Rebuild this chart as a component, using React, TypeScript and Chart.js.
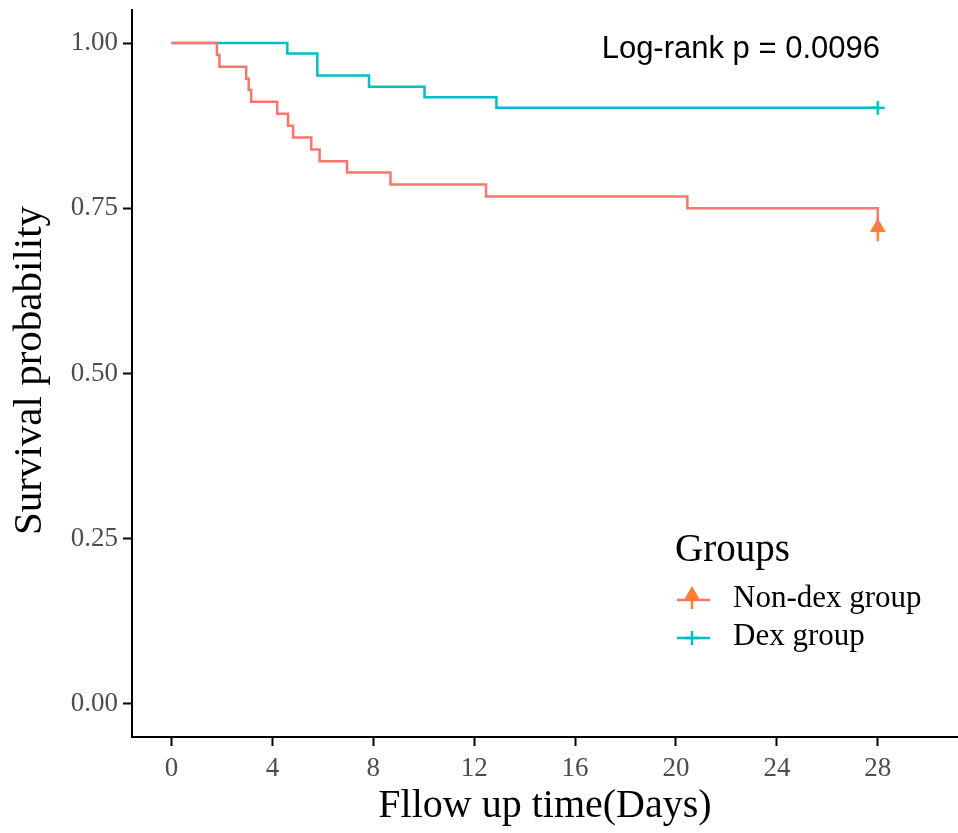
import React, { useEffect, useRef } from "react";
import { Chart, registerables } from "chart.js";

Chart.register(...registerables);

// ---- Data ----
const nonDexTimes = [0, 1.8, 1.9, 2.96, 3.06, 3.16, 4.19, 4.62, 4.82, 5.54, 5.87, 6.96, 8.68, 12.47, 20.45, 28];
const nonDexSurv = [1, 0.982, 0.964, 0.946, 0.929, 0.911, 0.893, 0.875, 0.857, 0.839, 0.821, 0.804, 0.786, 0.768, 0.75, 0.714];
const dexTimes = [0, 4.59, 5.78, 7.83, 10.03, 12.88, 28];
const dexSurv = [1, 0.984, 0.951, 0.934, 0.918, 0.902, 0.902];
const nonDexCensorTimes = [28];
const nonDexCensorSurv = [0.714];
const dexCensorTimes = [28];
const dexCensorSurv = [0.902];

const xTicks = [0, 4, 8, 12, 16, 20, 24, 28];
const yTicks = [0, 0.25, 0.5, 0.75, 1];
const groupLabels = ["Non-dex group", "Dex group"];
const legendTitle = "Groups";
const pValueText = "Log-rank p = 0.0096";
const xTitle = "Fllow up time(Days)";
const yTitle = "Survival probability";

const RED = "#F8766D";
const ORANGE = "#FF7F2A";
const CYAN = "#00BFC4";
const SERIF = "'Liberation Serif', 'Times New Roman', serif";
const SANS = "'Liberation Sans', Arial, sans-serif";

function makeRedMarker(): HTMLCanvasElement {
  const c = document.createElement("canvas");
  c.width = 20;
  c.height = 40;
  const g = c.getContext("2d")!;
  g.fillStyle = ORANGE;
  g.strokeStyle = ORANGE;
  g.lineWidth = 2.5;
  g.beginPath();
  g.moveTo(10, 6);
  g.lineTo(18, 20);
  g.lineTo(2, 20);
  g.closePath();
  g.fill();
  g.beginPath();
  g.moveTo(10, 18);
  g.lineTo(10, 29);
  g.stroke();
  return c;
}

function makeCyanMarker(): HTMLCanvasElement {
  const c = document.createElement("canvas");
  c.width = 20;
  c.height = 20;
  const g = c.getContext("2d")!;
  g.strokeStyle = CYAN;
  g.lineWidth = 2.5;
  g.beginPath();
  g.moveTo(3, 10);
  g.lineTo(17, 10);
  g.moveTo(10, 3);
  g.lineTo(10, 17);
  g.stroke();
  return c;
}

export default function App() {
  const ref = useRef<HTMLCanvasElement | null>(null);

  useEffect(() => {
    const canvas = ref.current;
    if (!canvas) return;
    const redMarker = makeRedMarker();
    const cyanMarker = makeCyanMarker();

    const annotations = {
      id: "annotations",
      afterDraw(chart: any) {
        const ctx = chart.ctx as CanvasRenderingContext2D;
        const area = chart.chartArea;
        ctx.save();
        // p-value
        ctx.fillStyle = "#000";
        ctx.font = `31px ${SANS}`;
        ctx.textAlign = "right";
        ctx.textBaseline = "alphabetic";
        ctx.fillText(pValueText, 880, 58);

        // x title
        ctx.font = `40px ${SERIF}`;
        ctx.textAlign = "center";
        ctx.fillText(xTitle, (area.left + area.right) / 2, 817);

        // y title
        ctx.save();
        ctx.translate(41, (area.top + area.bottom) / 2 - 3);
        ctx.rotate(-Math.PI / 2);
        ctx.font = `41px ${SERIF}`;
        ctx.textAlign = "center";
        ctx.fillText(yTitle, 0, 0);
        ctx.restore();

        // legend
        ctx.textAlign = "left";
        ctx.font = `39px ${SERIF}`;
        ctx.fillText(legendTitle, 675, 561);
        ctx.font = `31px ${SERIF}`;
        const rows = [
          { label: groupLabels[0], color: RED, marker: redMarker, y: 600, textY: 607 },
          { label: groupLabels[1], color: CYAN, marker: cyanMarker, y: 638, textY: 645 },
        ];
        rows.forEach((r) => {
          ctx.strokeStyle = r.color;
          ctx.lineWidth = 2.5;
          ctx.beginPath();
          ctx.moveTo(677, r.y);
          ctx.lineTo(710, r.y);
          ctx.stroke();
          ctx.drawImage(r.marker, 692 - r.marker.width / 2, r.y - r.marker.height / 2);
          ctx.fillStyle = "#000";
          ctx.fillText(r.label, 733, r.textY);
        });
        ctx.restore();
      },
    };

    const chart = new Chart(canvas, {
      type: "line",
      data: {
        datasets: [
          {
            label: groupLabels[0],
            data: nonDexTimes.map((t, i) => ({ x: t, y: nonDexSurv[i] })),
            borderColor: RED,
            borderWidth: 2.5,
            pointRadius: 0,
            stepped: "before",
            fill: false,
          },
          {
            label: groupLabels[1],
            data: dexTimes.map((t, i) => ({ x: t, y: dexSurv[i] })),
            borderColor: CYAN,
            borderWidth: 2.5,
            pointRadius: 0,
            stepped: "before",
            fill: false,
          },
          {
            label: groupLabels[0] + " censor",
            data: nonDexCensorTimes.map((t, i) => ({ x: t, y: nonDexCensorSurv[i] })),
            showLine: false,
            pointStyle: redMarker as any,
            pointRadius: 10,
          },
          {
            label: groupLabels[1] + " censor",
            data: dexCensorTimes.map((t, i) => ({ x: t, y: dexCensorSurv[i] })),
            showLine: false,
            pointStyle: cyanMarker as any,
            pointRadius: 10,
          },
        ],
      },
      options: {
        animation: false,
        responsive: false,
        layout: { autoPadding: false, padding: { top: 10, left: 0, right: 0, bottom: 0 } },
        plugins: { legend: { display: false }, tooltip: { enabled: false } },
        scales: {
          x: {
            type: "linear",
            min: -1.567,
            max: 31.18,
            afterFit: (s: any) => {
              s.height = 96;
              s.paddingLeft = 0;
              s.paddingRight = 0;
            },
            afterBuildTicks: (s: any) => {
              s.ticks = xTicks.map((v) => ({ value: v }));
            },
            grid: { display: true, drawOnChartArea: false, drawTicks: true, tickLength: 9, tickWidth: 2, tickColor: "#000" },
            border: { display: true, color: "#000", width: 2 },
            ticks: {
              autoSkip: false,
              maxRotation: 0,
              padding: 7,
              color: "#4D4D4D",
              font: { family: SERIF, size: 27 },
              callback: (v: any) => String(v),
            },
          },
          y: {
            type: "linear",
            min: -0.05,
            max: 1.05,
            afterFit: (s: any) => {
              s.width = 132;
              s.paddingTop = 0;
              s.paddingBottom = 0;
            },
            afterBuildTicks: (s: any) => {
              s.ticks = yTicks.map((v) => ({ value: v }));
            },
            grid: { display: true, drawOnChartArea: false, drawTicks: true, tickLength: 9, tickWidth: 2, tickColor: "#000" },
            border: { display: true, color: "#000", width: 2 },
            ticks: {
              autoSkip: false,
              padding: 5,
              color: "#4D4D4D",
              font: { family: SERIF, size: 27 },
              callback: (v: any) => Number(v).toFixed(2),
            },
          },
        },
      },
      plugins: [annotations],
    });
    return () => chart.destroy();
  }, []);

  return (
    <div style={{ position: "absolute", left: 0, top: 0, width: 958, height: 833, background: "#fff" }}>
      <canvas ref={ref} width={958} height={833} style={{ display: "block" }} />
    </div>
  );
}
